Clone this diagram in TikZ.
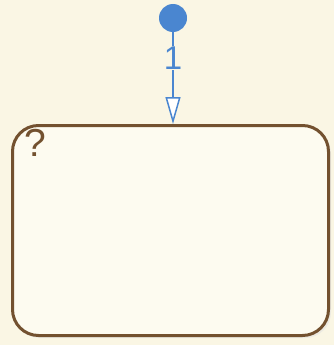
\documentclass[tikz,border=0pt]{standalone}
\usepackage{fontspec}
\setmainfont{Liberation Sans}
\usetikzlibrary{arrows.meta}
\definecolor{bg}{HTML}{FAF6E4}
\definecolor{boxfill}{HTML}{FDFBF0}
\definecolor{boxline}{HTML}{73512F}
\definecolor{tblue}{HTML}{4A86D0}
\begin{document}
\begin{tikzpicture}[x=1pt,y=-1pt,
  statebox/.style={draw=boxline,line width=3pt,fill=boxfill,rounded corners=26pt},
  trans/.style={draw=tblue,line width=1.5pt,-{Triangle[open,length=27pt,width=15pt,fill=white]}},
  lbl/.style={text=tblue,font=\fontsize{33}{33}\selectfont,fill=bg,inner sep=1pt}]
\fill[bg] (0,0) rectangle (334,345);
\useasboundingbox (0,0) rectangle (334,345);
\fill[black!12,opacity=0.5,rounded corners=26pt] (14,128) rectangle (331,338);
\node[statebox,minimum width=316pt,minimum height=210pt,anchor=north west] (s) at (11,124) {};
\node[text=boxline,font=\fontsize{39}{39}\selectfont,anchor=north west,inner sep=0pt] (q) at (24,129) {?};
\node[circle,fill=tblue,minimum size=28pt,inner sep=0pt] (d) at (173,18) {};
\draw[trans] (d.south) -- (s.north -| d.south) node[lbl,pos=0.28] (l) {1};
\end{tikzpicture}
\end{document}
